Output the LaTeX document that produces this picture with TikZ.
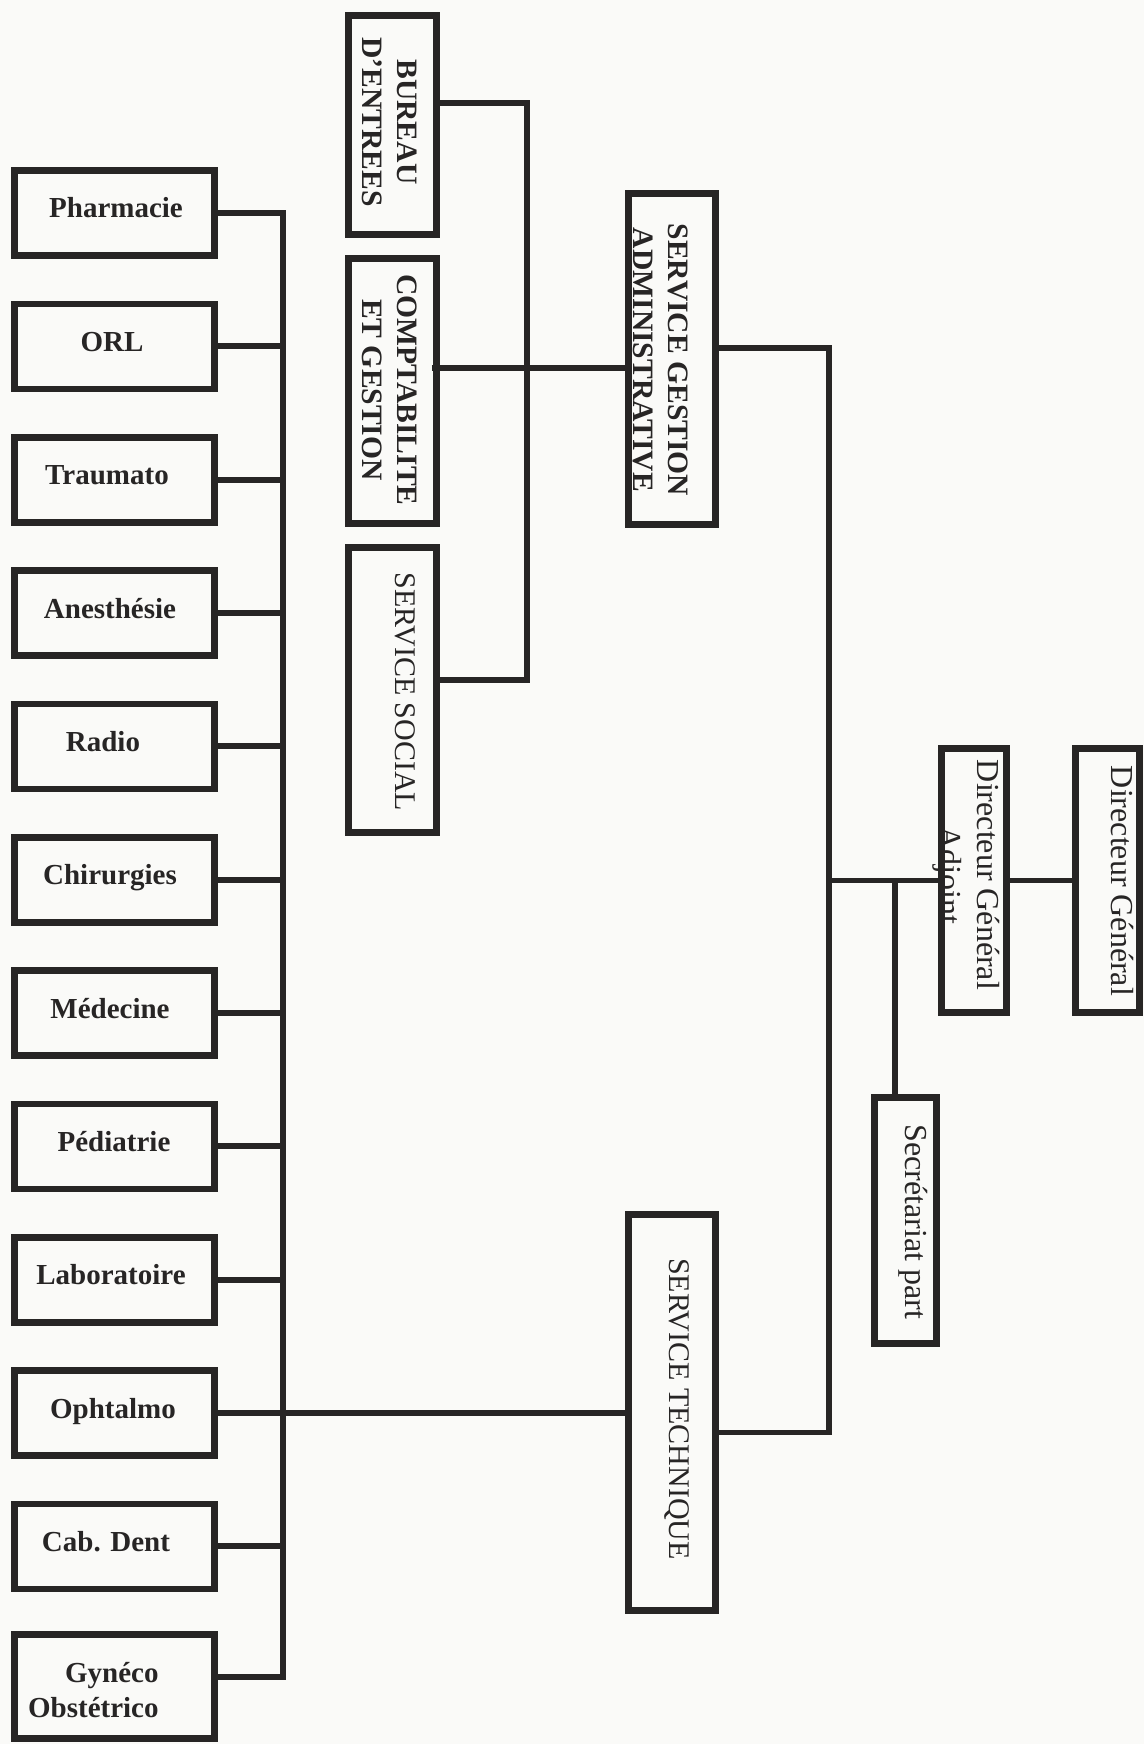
\documentclass[tikz,border=0pt]{standalone}
\usepackage{fontspec}
\setmainfont{Liberation Serif}
\usetikzlibrary{calc}
\definecolor{ink}{HTML}{272525}
\definecolor{paper}{HTML}{FAFAF8}
\tikzset{
  box/.style={draw=ink, line width=3.3pt, inner sep=0pt},
  conn/.style={draw=ink, line width=2.9pt, line join=miter},
  lt/.style={text=ink, inner sep=0pt, anchor=base, font=\fontsize{14.5}{17}\selectfont\bfseries},
  vb/.style={text=ink, rotate=-90, align=center, inner sep=0pt, font=\fontsize{14.8}{17.5}\selectfont\bfseries},
  vr/.style={text=ink, rotate=-90, align=center, inner sep=0pt, font=\fontsize{15}{18}\selectfont},
  vd/.style={text=ink, rotate=-90, align=center, inner sep=0pt, font=\fontsize{16}{19}\selectfont},
}
\newcommand\bx[5]{\node[box, minimum width={#4*0.5pt}, minimum height={#5*0.5pt}] (#1) at (#2,#3) {};}
\begin{document}
\begin{tikzpicture}[x=0.5pt,y=-0.5pt]
\fill[paper] (0,0) rectangle (1144,1744);
\useasboundingbox (0,0) rectangle (1144,1744);

% left column boxes
\bx{phar}{114.5}{213}{200}{85}
\bx{orl}{114.5}{346.3}{200}{85}
\bx{trau}{114.5}{479.7}{200}{85}
\bx{anes}{114.5}{613}{200}{85}
\bx{radio}{114.5}{746.3}{200}{85}
\bx{chir}{114.5}{879.7}{200}{85}
\bx{med}{114.5}{1013}{200}{85}
\bx{ped}{114.5}{1146.3}{200}{85}
\bx{labo}{114.5}{1279.7}{200}{85}
\bx{oph}{114.5}{1413}{200}{85}
\bx{cab}{114.5}{1546.3}{200}{85}
\bx{gyn}{114.5}{1686.5}{200}{104}

\node[lt] (tphar) at (116,218) {Pharmacie};
\node[lt] (torl) at (112,351.3) {ORL};
\node[lt] (ttrau) at (107,484.7) {Traumato};
\node[lt] (tanes) at (110,618) {Anesthésie};
\node[lt] (tradio) at (103,751.3) {Radio};
\node[lt] (tchir) at (110,884.7) {Chirurgies};
\node[lt] (tmed) at (110,1018) {Médecine};
\node[lt] (tped) at (114,1151.3) {Pédiatrie};
\node[lt] (tlabo) at (111,1284.7) {Laboratoire};
\node[lt] (toph) at (113,1418) {Ophtalmo};
\node[lt] (tcab) at (106,1551.3) {Cab. Dent};
\node[lt, anchor=base east] (tgyn1) at (159,1682) {Gynéco};
\node[lt, anchor=base east] (tgyn2) at (159,1717) {Obstétrico};

% top group
\bx{bur}{392.5}{125}{88}{219}
\bx{comp}{392.5}{391}{88}{265}
\bx{soc}{392.5}{690}{88}{285}
\node[vb] (tbur) at (389.5,122) {BUREAU\\D’ENTREES};
\node[vb] (tcomp) at (389.5,390) {COMPTABILITE\\ET GESTION};
\node[vr] (tsoc) at (405,692) {SERVICE SOCIAL};

% services
\bx{sga}{672}{359}{87}{331}
\bx{st}{672}{1412.5}{87}{396}
\node[vb] (tsga) at (660.5,360) {SERVICE GESTION\\ADMINISTRATIVE};
\node[vr] (tst) at (677,1409) {SERVICE TECHNIQUE};

% direction
\bx{dga}{974}{880.5}{65}{264}
\bx{dg}{1107.5}{880.5}{64}{264}
\bx{sec}{905.5}{1220.5}{62}{246}
\node[vd] (tdga) at (966,875) {Directeur Général\\Adjoint};
\node[vd] (tdg) at (1122,881) {Directeur Général};
\node[vd] (tsec) at (913,1222) {Secrétariat part};

% connectors: left bus
\coordinate (busx) at (283,0);
\coordinate (gync) at ([yshift=4.75pt]gyn.east);
\draw[conn] (phar.east) -| (gync -| busx) -- (gync);
\foreach \n in {orl,trau,anes,radio,chir,med,ped,labo,cab}
  \draw[conn] (\n.east) -- (\n.east -| busx);
\draw[conn] (oph.east) -- (oph.east -| st.west);

% connectors: top group
\coordinate (tbus) at (527,0);
\coordinate (bc) at ([yshift=11pt]bur.east);
\coordinate (sc) at ([yshift=5pt]soc.east);
\draw[conn] (bc) -| (sc -| tbus) -- (sc);
\draw[conn] ([xshift=-4pt,yshift=11.5pt]comp.east) -- ([yshift=-4.5pt]sga.west);

% connectors: main
\coordinate (mx) at (829,0);
\coordinate (sgr) at ([yshift=5.5pt]sga.east);
\coordinate (str) at ([yshift=-10pt]st.east);
\draw[conn] (sgr) -| (str -| mx) -- (str);
\draw[conn] (dga.west -| mx) -- (dga.west);
\draw[conn] (dga.east) -- (dg.west);
\coordinate (jx) at (895,0);
\draw[conn] (dga.west -| jx) -- (sec.north -| jx);
\end{tikzpicture}
\end{document}
